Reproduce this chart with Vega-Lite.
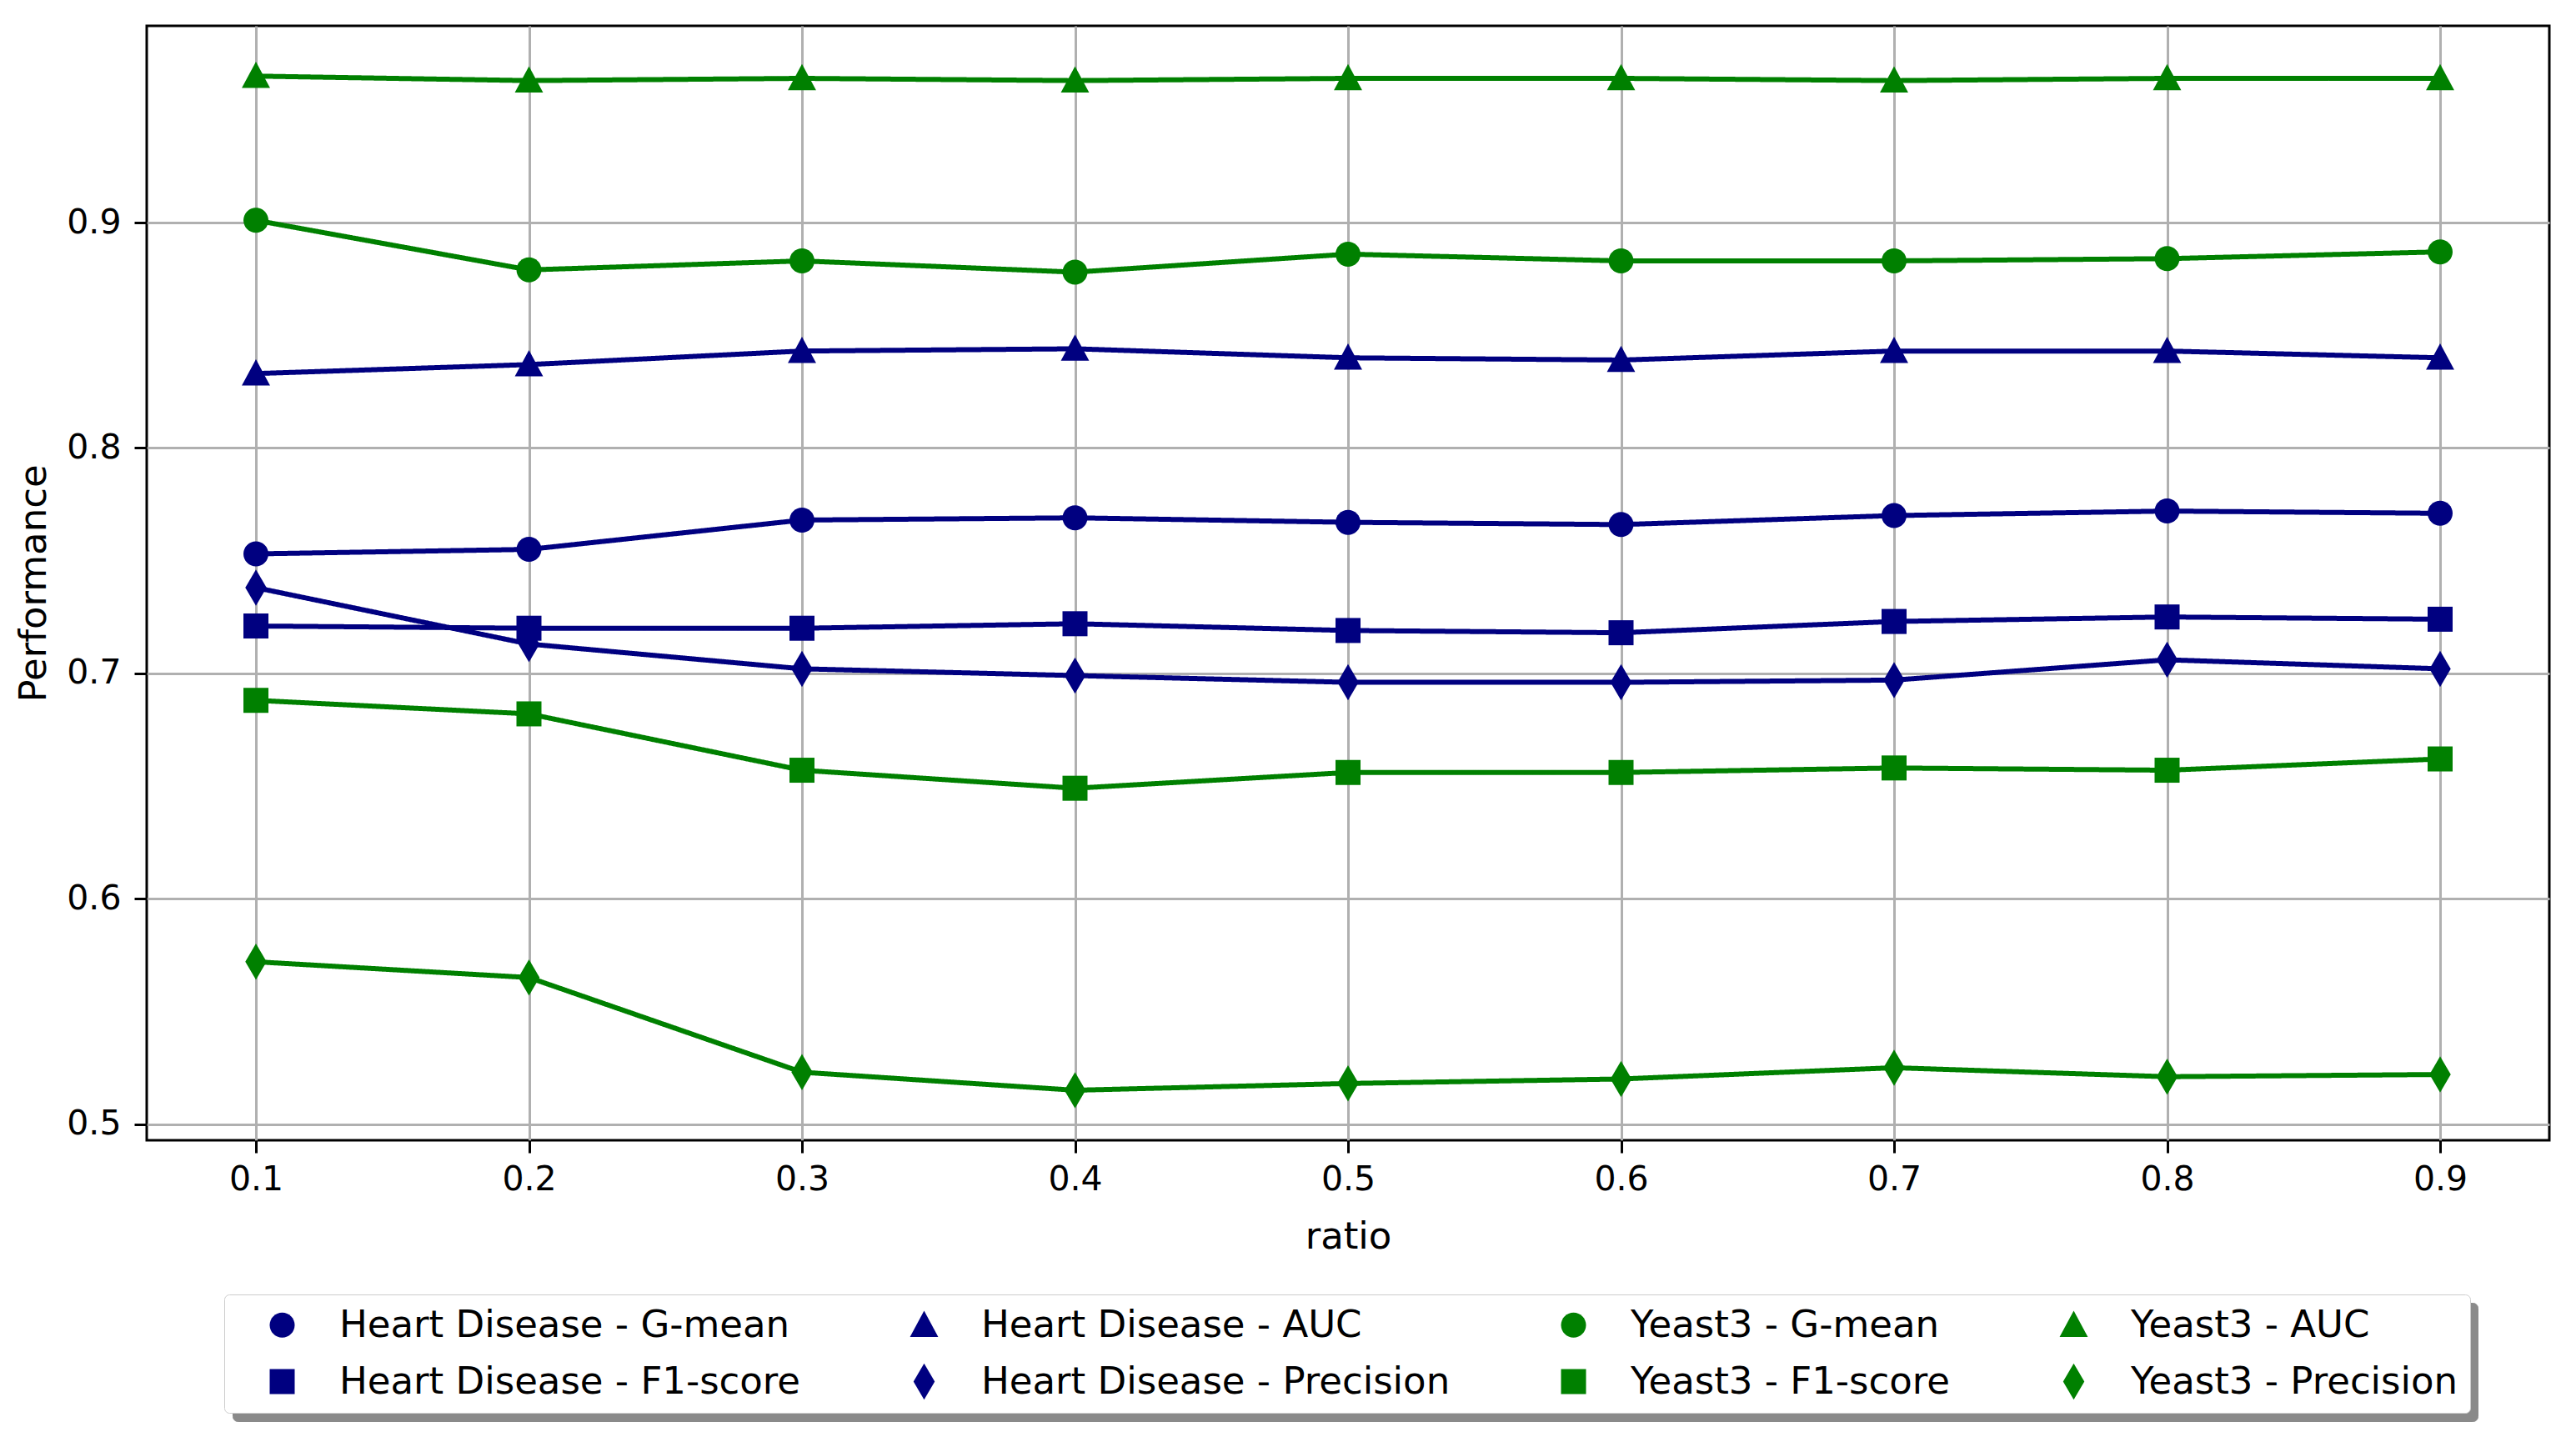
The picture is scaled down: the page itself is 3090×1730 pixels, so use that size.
{
  "$schema": "https://vega.github.io/schema/vega-lite/v6.json",
  "autosize": {"type": "none"},
  "width": 2882,
  "height": 1337,
  "padding": {"left": 176, "top": 31, "right": 32, "bottom": 362},
  "background": "white",
  "config": {
    "font": "DejaVu Sans",
    "view": {"stroke": "black", "strokeWidth": 3},
    "axis": {
      "labelFont": "DejaVu Sans", "titleFont": "DejaVu Sans",
      "labelFontSize": 41, "titleFontSize": 45, "titleFontWeight": "normal",
      "labelColor": "black", "titleColor": "black",
      "gridColor": "#b0b0b0", "gridWidth": 3, "gridOpacity": 1,
      "domain": false, "tickColor": "black", "tickWidth": 3, "tickSize": 15
    },
    "legend": {
      "title": null, "orient": "none", "columns": 4, "direction": "horizontal",
      "labelFont": "DejaVu Sans", "labelFontSize": 45, "labelColor": "black", "labelLimit": 1000,
      "symbolSize": 900, "symbolOffset": 33, "labelOffset": 46,
      "columnPadding": 92, "rowPadding": 22, "padding": 14, "cornerRadius": 6,
      "symbolStrokeWidth": 0
    }
  },
  "data": {"values": [
    {"ratio": 0.1, "value": 0.753, "series": "Heart Disease - G-mean"},
    {"ratio": 0.2, "value": 0.755, "series": "Heart Disease - G-mean"},
    {"ratio": 0.3, "value": 0.768, "series": "Heart Disease - G-mean"},
    {"ratio": 0.4, "value": 0.769, "series": "Heart Disease - G-mean"},
    {"ratio": 0.5, "value": 0.767, "series": "Heart Disease - G-mean"},
    {"ratio": 0.6, "value": 0.766, "series": "Heart Disease - G-mean"},
    {"ratio": 0.7, "value": 0.770, "series": "Heart Disease - G-mean"},
    {"ratio": 0.8, "value": 0.772, "series": "Heart Disease - G-mean"},
    {"ratio": 0.9, "value": 0.771, "series": "Heart Disease - G-mean"},
    {"ratio": 0.1, "value": 0.833, "series": "Heart Disease - AUC"},
    {"ratio": 0.2, "value": 0.837, "series": "Heart Disease - AUC"},
    {"ratio": 0.3, "value": 0.843, "series": "Heart Disease - AUC"},
    {"ratio": 0.4, "value": 0.844, "series": "Heart Disease - AUC"},
    {"ratio": 0.5, "value": 0.840, "series": "Heart Disease - AUC"},
    {"ratio": 0.6, "value": 0.839, "series": "Heart Disease - AUC"},
    {"ratio": 0.7, "value": 0.843, "series": "Heart Disease - AUC"},
    {"ratio": 0.8, "value": 0.843, "series": "Heart Disease - AUC"},
    {"ratio": 0.9, "value": 0.840, "series": "Heart Disease - AUC"},
    {"ratio": 0.1, "value": 0.901, "series": "Yeast3 - G-mean"},
    {"ratio": 0.2, "value": 0.879, "series": "Yeast3 - G-mean"},
    {"ratio": 0.3, "value": 0.883, "series": "Yeast3 - G-mean"},
    {"ratio": 0.4, "value": 0.878, "series": "Yeast3 - G-mean"},
    {"ratio": 0.5, "value": 0.886, "series": "Yeast3 - G-mean"},
    {"ratio": 0.6, "value": 0.883, "series": "Yeast3 - G-mean"},
    {"ratio": 0.7, "value": 0.883, "series": "Yeast3 - G-mean"},
    {"ratio": 0.8, "value": 0.884, "series": "Yeast3 - G-mean"},
    {"ratio": 0.9, "value": 0.887, "series": "Yeast3 - G-mean"},
    {"ratio": 0.1, "value": 0.965, "series": "Yeast3 - AUC"},
    {"ratio": 0.2, "value": 0.963, "series": "Yeast3 - AUC"},
    {"ratio": 0.3, "value": 0.964, "series": "Yeast3 - AUC"},
    {"ratio": 0.4, "value": 0.963, "series": "Yeast3 - AUC"},
    {"ratio": 0.5, "value": 0.964, "series": "Yeast3 - AUC"},
    {"ratio": 0.6, "value": 0.964, "series": "Yeast3 - AUC"},
    {"ratio": 0.7, "value": 0.963, "series": "Yeast3 - AUC"},
    {"ratio": 0.8, "value": 0.964, "series": "Yeast3 - AUC"},
    {"ratio": 0.9, "value": 0.964, "series": "Yeast3 - AUC"},
    {"ratio": 0.1, "value": 0.721, "series": "Heart Disease - F1-score"},
    {"ratio": 0.2, "value": 0.720, "series": "Heart Disease - F1-score"},
    {"ratio": 0.3, "value": 0.720, "series": "Heart Disease - F1-score"},
    {"ratio": 0.4, "value": 0.722, "series": "Heart Disease - F1-score"},
    {"ratio": 0.5, "value": 0.719, "series": "Heart Disease - F1-score"},
    {"ratio": 0.6, "value": 0.718, "series": "Heart Disease - F1-score"},
    {"ratio": 0.7, "value": 0.723, "series": "Heart Disease - F1-score"},
    {"ratio": 0.8, "value": 0.725, "series": "Heart Disease - F1-score"},
    {"ratio": 0.9, "value": 0.724, "series": "Heart Disease - F1-score"},
    {"ratio": 0.1, "value": 0.738, "series": "Heart Disease - Precision"},
    {"ratio": 0.2, "value": 0.713, "series": "Heart Disease - Precision"},
    {"ratio": 0.3, "value": 0.702, "series": "Heart Disease - Precision"},
    {"ratio": 0.4, "value": 0.699, "series": "Heart Disease - Precision"},
    {"ratio": 0.5, "value": 0.696, "series": "Heart Disease - Precision"},
    {"ratio": 0.6, "value": 0.696, "series": "Heart Disease - Precision"},
    {"ratio": 0.7, "value": 0.697, "series": "Heart Disease - Precision"},
    {"ratio": 0.8, "value": 0.706, "series": "Heart Disease - Precision"},
    {"ratio": 0.9, "value": 0.702, "series": "Heart Disease - Precision"},
    {"ratio": 0.1, "value": 0.688, "series": "Yeast3 - F1-score"},
    {"ratio": 0.2, "value": 0.682, "series": "Yeast3 - F1-score"},
    {"ratio": 0.3, "value": 0.657, "series": "Yeast3 - F1-score"},
    {"ratio": 0.4, "value": 0.649, "series": "Yeast3 - F1-score"},
    {"ratio": 0.5, "value": 0.656, "series": "Yeast3 - F1-score"},
    {"ratio": 0.6, "value": 0.656, "series": "Yeast3 - F1-score"},
    {"ratio": 0.7, "value": 0.658, "series": "Yeast3 - F1-score"},
    {"ratio": 0.8, "value": 0.657, "series": "Yeast3 - F1-score"},
    {"ratio": 0.9, "value": 0.662, "series": "Yeast3 - F1-score"},
    {"ratio": 0.1, "value": 0.572, "series": "Yeast3 - Precision"},
    {"ratio": 0.2, "value": 0.565, "series": "Yeast3 - Precision"},
    {"ratio": 0.3, "value": 0.523, "series": "Yeast3 - Precision"},
    {"ratio": 0.4, "value": 0.515, "series": "Yeast3 - Precision"},
    {"ratio": 0.5, "value": 0.518, "series": "Yeast3 - Precision"},
    {"ratio": 0.6, "value": 0.520, "series": "Yeast3 - Precision"},
    {"ratio": 0.7, "value": 0.525, "series": "Yeast3 - Precision"},
    {"ratio": 0.8, "value": 0.521, "series": "Yeast3 - Precision"},
    {"ratio": 0.9, "value": 0.522, "series": "Yeast3 - Precision"}
  ]},
  "encoding": {
    "x": {
      "field": "ratio", "type": "quantitative", "title": "ratio",
      "scale": {"domain": [0.06, 0.94], "nice": false, "zero": false},
      "axis": {"values": [0.1, 0.2, 0.3, 0.4, 0.5, 0.6, 0.7, 0.8, 0.9], "format": ".1f", "labelPadding": 12, "titlePadding": 26, "labelFlush": false}
    },
    "y": {
      "field": "value", "type": "quantitative", "title": "Performance",
      "scale": {"domain": [0.4928, 0.9873], "nice": false, "zero": false},
      "axis": {"values": [0.5, 0.6, 0.7, 0.8, 0.9], "format": ".1f", "labelPadding": 16, "titlePadding": 16, "labelFlush": false}
    },
    "color": {
      "field": "series", "type": "nominal",
      "scale": {
        "domain": ["Heart Disease - G-mean", "Heart Disease - AUC", "Yeast3 - G-mean", "Yeast3 - AUC", "Heart Disease - F1-score", "Heart Disease - Precision", "Yeast3 - F1-score", "Yeast3 - Precision"],
        "range": ["#000080", "#000080", "#008000", "#008000", "#000080", "#000080", "#008000", "#008000"]
      },
      "legend": {
        "legendX": 93, "legendY": 1522, "zindex": 2,
        "fillColor": "white", "strokeColor": "#cccccc", "symbolOpacity": 1
      }
    },
    "shape": {
      "field": "series", "type": "nominal",
      "scale": {
        "domain": ["Heart Disease - G-mean", "Heart Disease - AUC", "Yeast3 - G-mean", "Yeast3 - AUC", "Heart Disease - F1-score", "Heart Disease - Precision", "Yeast3 - F1-score", "Yeast3 - Precision"],
        "range": [
          "M1,0A1,1,0,1,1,-1,0A1,1,0,1,1,1,0Z",
          "M0,-1.15L1.13,0.95L-1.13,0.95Z",
          "M1,0A1,1,0,1,1,-1,0A1,1,0,1,1,1,0Z",
          "M0,-1.15L1.13,0.95L-1.13,0.95Z",
          "M-1,-1H1V1H-1Z",
          "M0,-1.45L0.85,0L0,1.45L-0.85,0Z",
          "M-1,-1H1V1H-1Z",
          "M0,-1.45L0.85,0L0,1.45L-0.85,0Z"
        ]
      },
      "legend": {
        "legendX": 93, "legendY": 1522, "zindex": 2,
        "fillColor": "white", "strokeColor": "#cccccc", "symbolOpacity": 1
      }
    }
  },
  "layer": [
    {
      "mark": {"type": "line", "strokeWidth": 6},
      "encoding": {
        "shape": null,
        "strokeDash": {
          "field": "series", "type": "nominal",
          "scale": {
            "domain": ["Yeast3 - Precision", "Yeast3 - F1-score", "Heart Disease - Precision", "Heart Disease - F1-score", "Yeast3 - AUC", "Yeast3 - G-mean", "Heart Disease - AUC", "Heart Disease - G-mean"],
            "range": [[1, 0], [1, 0], [1, 0], [1, 0], [1, 0], [1, 0], [1, 0], [1, 0]]
          },
          "legend": {
            "values": ["Heart Disease - G-mean", "Heart Disease - AUC", "Yeast3 - G-mean", "Yeast3 - AUC", "Heart Disease - F1-score", "Heart Disease - Precision", "Yeast3 - F1-score", "Yeast3 - Precision"],
            "legendX": 103, "legendY": 1532, "zindex": 1,
            "fillColor": "#8a8a8a", "strokeColor": "#8a8a8a",
            "labelExpr": "''", "labelOpacity": 0, "symbolOpacity": 0,
            "symbolSize": 1980, "columnPadding": 723
          }
        }
      }
    },
    {"mark": {"type": "point", "filled": true, "size": 900, "opacity": 1, "strokeWidth": 0}}
  ]
}
